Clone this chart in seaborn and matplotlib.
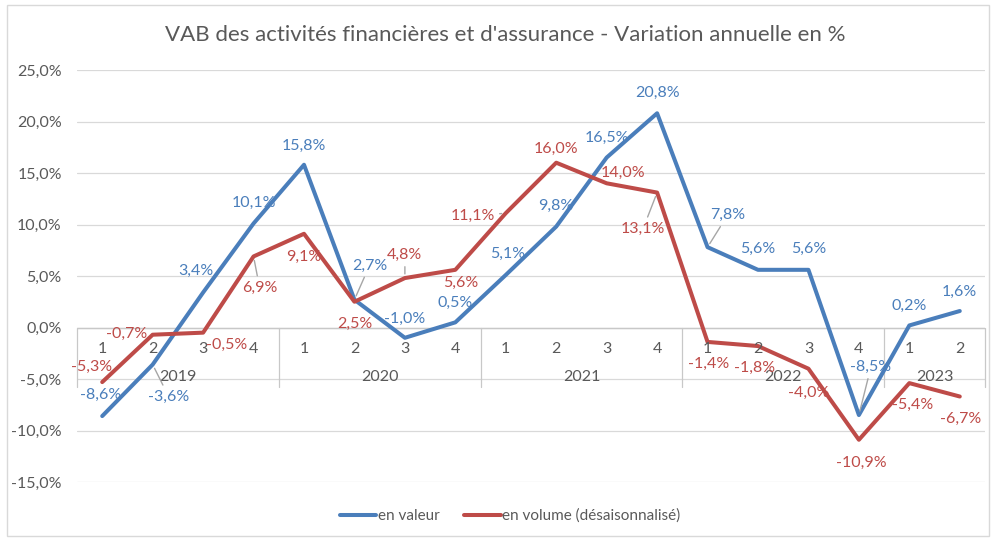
import matplotlib
matplotlib.use("Agg")
import matplotlib.pyplot as plt
import matplotlib.patches as mpatches
import numpy as np
import pandas as pd
import seaborn as sns

# Données
years = ["2019", "2020", "2021", "2022", "2023"]
quarters = ["1", "2", "3", "4"] * 4 + ["1", "2"]
en_valeur = [-8.6, -3.6, 3.4, 10.1, 15.8, 2.7, -1.0, 0.5, 5.1, 9.8,
             16.5, 20.8, 7.8, 5.6, 5.6, -8.5, 0.2, 1.6]
en_volume = [-5.3, -0.7, -0.5, 6.9, 9.1, 2.5, 4.8, 5.6, 11.1, 16.0,
             14.0, 13.1, -1.4, -1.8, -4.0, -10.9, -5.4, -6.7]
series_names = ["en valeur", "en volume (désaisonnalisé)"]
yticks = [-15, -10, -5, 0, 5, 10, 15, 20, 25]

BLUE = "#4A7EBB"
RED = "#BE4B48"
GRID = "#D9D9D9"
TXT = "#595959"

# label offsets in pixels (dx, dy), and whether a leader line is drawn
off_valeur = [(-2, 21), (16, -32), (-7, 22), (0, 21), (0, 19), (15, 34),
              (0, 19), (0, 19), (2, 21), (0, 21), (0, 20), (0, 20),
              (20, 32), (0, 21), (0, 21), (12, 48), (0, 20), (0, 19)]
lead_valeur = {1, 5, 12, 15}
off_volume = [(-11, 15), (-26, 1), (24, -12), (6, -31), (0, -23), (0, -22),
              (0, 23), (5, -13), (-33, -3), (0, 14), (16, 10), (-14, -36),
              (1, -22), (-3, -22), (0, -24), (2, -23), (3, -22), (1, -22)]
lead_volume = {3, 6, 8, 11}

n = len(en_valeur)
df = pd.DataFrame({
    "idx": list(range(n)) * 2,
    "value": en_valeur + en_volume,
    "serie": [series_names[0]] * n + [series_names[1]] * n,
})

sns.set_theme(style="white")
plt.rcParams["font.family"] = ["Lato", "DejaVu Sans"]

fig = plt.figure(figsize=(9.92, 5.38), dpi=100)
ax = fig.add_axes([77 / 992, 1 - 482 / 538, (985 - 77) / 992, (482 - 70) / 538])

sns.lineplot(data=df, x="idx", y="value", hue="serie",
             palette=[BLUE, RED], linewidth=2.9, ax=ax, sort=False)
handles, labels = ax.get_legend_handles_labels()
ax.get_legend().remove()

ax.set_xlim(-0.5, n - 0.5)
ax.set_ylim(-15, 25)
ax.set_yticks(yticks)
ax.set_yticklabels([f"{t:.1f}%".replace(".", ",") for t in yticks],
                   color=TXT, fontsize=11.5)
ax.tick_params(axis="y", length=0, pad=11)
ax.set_xticks([])
ax.set_xlabel("")
ax.set_ylabel("")
for s in ax.spines.values():
    s.set_visible(False)
for t in yticks:
    ax.axhline(t, color=GRID, lw=0.9, zorder=0)
ax.axhline(0, color="#C8C8C8", lw=1.0, zorder=0)

# multi-level category axis
for i, q in enumerate(quarters):
    ax.text(i, -2.05, q, ha="center", va="center", color=TXT, fontsize=11.5)
starts = [0, 4, 8, 12, 16]
ends = [4, 8, 12, 16, n]
for yr, a, b in zip(years, starts, ends):
    ax.text((a + b - 1) / 2, -4.85, yr, ha="center", va="center",
            color=TXT, fontsize=11.5)
for b in [0] + ends:
    ax.plot([b - 0.5, b - 0.5], [0, -5.8], color="#C8C8C8", lw=0.9,
            zorder=0, clip_on=False)


def fmt(v):
    return f"{v:.1f}%".replace(".", ",")


for vals, offs, leads, col in [(en_valeur, off_valeur, lead_valeur, BLUE),
                               (en_volume, off_volume, lead_volume, RED)]:
    for i, v in enumerate(vals):
        kw = {}
        if i in leads:
            kw["arrowprops"] = dict(arrowstyle="-", color="#A6A6A6", lw=1,
                                    shrinkA=1, shrinkB=3)
        ax.annotate(fmt(v), (i, v), xytext=offs[i], textcoords="offset pixels",
                    ha="center", va="center", color=col, fontsize=11.5, **kw)

fig.text(505 / 992, 1 - 35 / 538,
         "VAB des activités financières et d'assurance - Variation annuelle en %",
         ha="center", va="center", fontsize=16, color=TXT)

fig.legend(handles, labels, loc="center", ncol=2,
           bbox_to_anchor=(510 / 992, 1 - 516 / 538), frameon=False,
           fontsize=11, handlelength=2.4, handletextpad=0.1,
           columnspacing=1.6, labelcolor=TXT)

fig.add_artist(mpatches.Rectangle((7 / 992, 2 / 538), 982 / 992, 531 / 538,
                                  transform=fig.transFigure, fill=False,
                                  edgecolor="#D9D9D9", lw=1))

fig.savefig("out.png", dpi=100)
